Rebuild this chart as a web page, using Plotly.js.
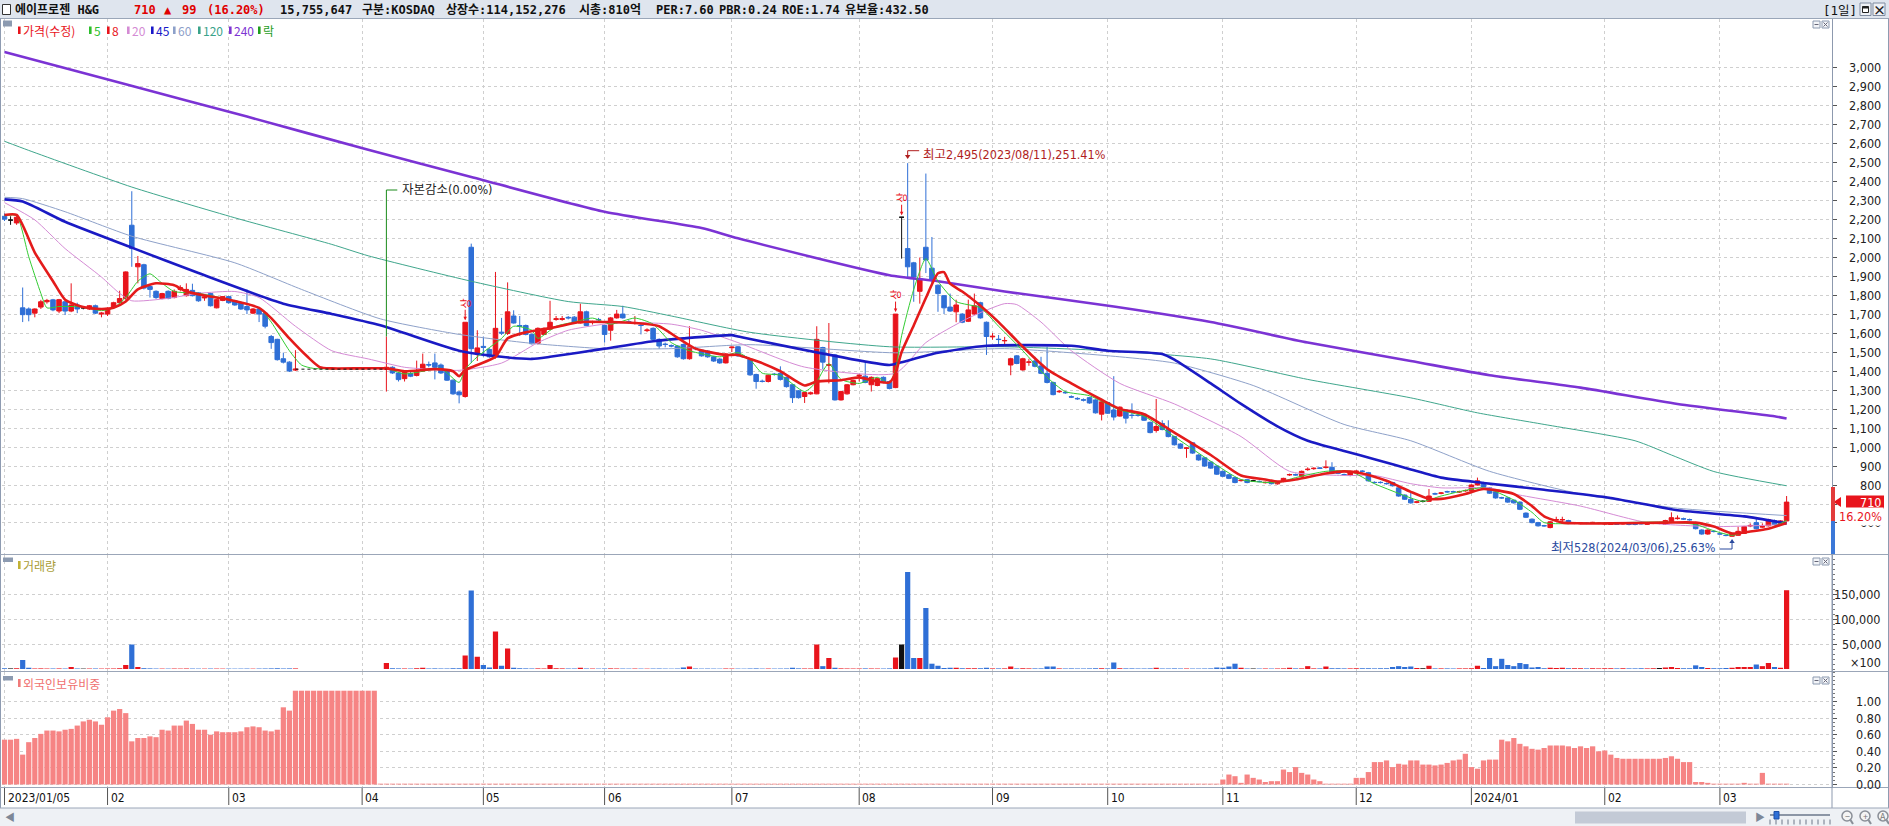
<!DOCTYPE html>
<html><head><meta charset="utf-8">
<script src="https://cdn.plot.ly/plotly-3.0.1.min.js"></script>
<style>html,body{margin:0;padding:0;background:#fff;overflow:hidden}#chart{width:1889px;height:826px}</style>
</head><body><div id="chart"></div>
<script>
// ---------------- DATA ----------------
const holidays = ['2023/01/23','2023/01/24','2023/03/01','2023/05/01','2023/05/05','2023/05/29','2023/06/06','2023/08/15','2023/09/28','2023/09/29','2023/10/02','2023/10/03','2023/10/09','2023/12/25','2023/12/29','2024/01/01','2024/02/09','2024/02/12','2024/03/01'];
const firstDay = [2023,1,5], lastDay = [2024,3,19];

const monthTickDates = ['2023/01/05','2023/02/01','2023/03/02','2023/04/03','2023/05/02','2023/06/01','2023/07/03','2023/08/01','2023/09/01','2023/10/04','2023/11/01','2023/12/01','2024/01/02','2024/02/01','2024/03/04'];
const monthTickText = ['2023/01/05','02','03','04','05','06','07','08','09','10','11','12','2024/01','02','03'];

const open = [
2215,2195,2180,1733,1727,1705,1737,1765,1775,1716,
1765,1716,1748,1733,1727,1744,1700,1700,1735,1760,
1782,2168,1949,1960,1845,1820,1782,1820,1787,1830,
1797,1825,1812,1785,1808,1733,1772,1792,1770,1760,
1740,1705,1727,1705,1582,1567,1465,1447,1405,null,
null,null,null,null,null,null,null,null,null,null,
null,null,null,1410,1420,1390,1360,1387,1377,1400,
1434,1443,1432,1400,1352,1290,1266,2052,1490,1530,
1514,1475,1605,1598,1690,1640,1640,1593,1546,1593,
1620,1672,1672,1683,1684,1653,1712,1655,1672,1640,
1615,1680,1700,1660,1651,1642,1613,1625,1567,1542,
1534,1532,1540,1465,1520,1510,1505,1475,1463,1443,
1523,1528,1477,1462,1382,1347,1345,1384,1388,1367,
1328,1296,1266,1280,1280,1524,1430,1485,1248,1280,
1328,1376,1373,1328,1324,1367,1345,1313,2210,2045,
1970,1820,2052,1942,1852,1797,1737,1712,1700,1662,
1700,1760,1657,1580,1568,1559,1432,1480,1406,1446,
1453,1427,1388,1340,1291,1288,1265,1256,1249,1260,
1248,1173,1234,1195,1163,1195,1168,1168,1173,1130,
1087,1124,1092,1055,1016,993,1022,958,943,921,
900,872,854,839,823,828,822,819,812,822,
806,818,853,855,846,881,886,890,892,893,
872,855,850,871,873,865,814,814,808,813,
785,747,725,709,714,714,754,756,765,765,
763,769,770,800,813,785,764,733,732,720,
710,652,620,602,586,576,616,616,613,597,
597,599,601,597,595,593,595,595,593,593,
597,594,597,598,592,606,623,622,618,602,
563,542,556,543,535,530,535,545,584,602,
578,585,613,598,611];

const high = [
2230,2215,2225,1840,1735,1730,1775,1780,1780,1780,
1770,1862,1760,1740,1748,1750,1710,1735,1765,1823,
1925,2347,2006,1965,1850,1825,1812,1825,1830,1852,
1862,1860,1815,1800,1812,1780,1795,1796,1775,1765,
1830,1732,1730,1710,1590,1570,1497,1452,1510,null,
null,null,null,null,null,null,null,null,null,null,
null,null,null,1582,1425,1395,1405,1395,1455,1492,
1450,1492,1440,1405,1356,1295,1657,2071,1615,1582,
1520,1922,1680,1867,1720,1690,1645,1598,1630,1630,
1770,1690,1690,1690,1690,1755,1718,1665,1680,1645,
1685,1722,1744,1668,1690,1650,1625,1630,1572,1550,
1540,1536,1545,1636,1528,1515,1510,1480,1468,1495,
1530,1532,1485,1466,1386,1355,1382,1390,1425,1370,
1332,1300,1290,1292,1636,1528,1653,1490,1296,1332,
1354,1385,1453,1372,1365,1372,1350,1700,2210,2495,
1975,1998,2440,2106,1856,1800,1808,1776,1705,1776,
1808,1765,1661,1600,1590,1580,1470,1484,1470,1465,
1475,1475,1528,1344,1300,1296,1272,1262,1256,1264,
1252,1242,1238,1373,1214,1200,1230,1175,1178,1134,
1253,1141,1141,1059,1020,1000,1026,962,946,924,
904,876,858,843,830,832,827,824,818,826,
821,838,860,860,876,893,893,895,930,920,
876,860,876,878,878,869,819,819,813,817,
789,751,764,716,720,779,760,763,770,770,
770,776,804,839,817,789,768,738,736,724,
714,656,624,606,590,610,633,633,617,602,
602,603,606,602,600,598,598,600,597,597,
600,599,602,602,617,656,640,628,623,606,
567,567,562,548,540,548,580,585,598,628,
598,622,618,615,742];

const low = [
2190,2170,2170,1658,1662,1683,1727,1755,1715,1705,
1695,1710,1705,1725,1722,1700,1683,1690,1730,1755,
1775,1949,1862,1830,1787,1780,1778,1778,1783,1820,
1792,1793,1765,1770,1740,1730,1768,1755,1744,1722,
1700,1700,1658,1625,1517,1455,1440,1395,1400,null,
null,null,null,null,null,null,null,null,null,null,
null,null,null,1292,1385,1345,1345,1368,1372,1395,
1420,1356,1385,1348,1275,1230,1260,1442,1453,1475,
1470,1465,1590,1590,1650,1585,1588,1540,1540,1590,
1615,1665,1665,1672,1648,1650,1636,1645,1662,1550,
1560,1676,1676,1650,1645,1593,1605,1562,1517,1525,
1525,1470,1460,1460,1510,1476,1470,1448,1438,1440,
1500,1476,1470,1375,1307,1340,1340,1376,1350,1313,
1232,1255,1232,1275,1278,1410,1335,1245,1245,1276,
1325,1345,1336,1292,1320,1336,1304,1310,1992,1895,
1765,1755,1916,1852,1712,1700,1712,1657,1652,1658,
1695,1676,1485,1565,1535,1535,1378,1436,1402,1428,
1420,1384,1335,1272,1285,1280,1258,1248,1240,1228,
1176,1140,1174,1140,1160,1124,1150,1160,1137,1072,
1076,1088,1051,1008,990,943,964,928,896,885,
853,842,831,809,818,809,817,814,808,803,
802,815,848,849,843,875,880,884,887,857,
857,849,846,866,866,818,808,808,802,792,
738,721,702,704,708,711,748,751,759,759,
758,764,766,797,781,753,728,727,706,702,
668,626,598,581,581,572,612,598,594,594,
594,594,597,594,591,590,590,591,588,588,
592,590,594,594,590,603,618,616,612,566,
538,538,550,538,530,528,533,542,578,566,
574,582,588,594,608];

const close = [
2200,2195,2210,1697,1697,1727,1765,1772,1722,1776,
1716,1748,1727,1733,1744,1705,1705,1730,1760,1782,
1922,2045,1966,1837,1830,1787,1808,1782,1820,1840,
1830,1797,1770,1790,1744,1776,1792,1760,1748,1727,
1722,1727,1700,1636,1550,1460,1447,1400,1410,null,
null,null,null,null,null,null,null,null,null,null,
null,null,null,1420,1390,1355,1400,1373,1400,1436,
1432,1420,1390,1352,1280,1275,1657,1518,1522,1525,
1475,1625,1600,1712,1653,1636,1593,1544,1625,1625,
1657,1675,1676,1680,1653,1712,1640,1658,1670,1593,
1680,1700,1680,1657,1654,1640,1616,1567,1532,1540,
1532,1475,1465,1528,1518,1480,1475,1453,1443,1490,
1526,1480,1475,1380,1345,1345,1378,1382,1356,1318,
1260,1260,1287,1285,1567,1447,1434,1248,1292,1328,
1350,1378,1340,1367,1360,1340,1308,1700,2210,1949,
1895,1885,1985,1878,1808,1733,1716,1748,1657,1722,
1744,1680,1582,1583,1566,1561,1465,1440,1465,1448,
1425,1388,1340,1276,1293,1286,1263,1254,1247,1232,
1180,1238,1178,1158,1210,1152,1166,1166,1141,1076,
1108,1092,1055,1012,994,995,968,932,900,889,
857,846,835,813,825,813,822,818,814,807,
818,835,855,853,872,883,888,888,894,861,
861,854,872,873,872,822,813,813,807,796,
742,725,706,711,714,742,753,758,764,764,
765,771,800,822,785,757,732,732,710,706,
672,630,602,585,585,606,618,618,598,599,
599,598,603,599,597,595,594,597,592,592,
596,595,599,598,613,628,625,621,617,570,
542,563,555,542,534,545,556,581,587,570,
582,617,592,611,710];

// volume, in units of 100 shares (axis "x100")
const volume = [
1500,1200,1500,18000,2500,1000,1200,900,1000,1100,
900,4000,1000,800,900,1000,800,900,1000,1500,
8000,49000,4000,1600,1200,900,800,800,900,800,
1000,900,800,700,900,800,700,800,700,800,
900,700,900,1000,1200,1500,1000,1200,1100,0,
0,0,0,0,0,0,0,0,0,0,
0,0,0,12000,1500,1200,1000,900,1500,2500,
1000,1200,1000,1000,1500,1500,27000,157000,24500,8000,
3000,75000,6500,41000,2500,1500,1200,1000,1200,1000,
8000,1500,1200,1000,1000,2500,1000,900,800,1000,
1200,1000,900,800,900,800,700,900,1000,800,
700,900,3000,5000,1000,800,900,800,700,1000,
900,800,700,1000,1200,800,900,800,900,1000,
2500,1200,1000,1000,49000,5700,22000,2500,1200,1000,
900,1000,1200,1000,900,900,1200,23000,49000,194000,
22000,22000,122000,10600,6500,2000,2500,2500,1500,1500,
1500,1500,2500,1200,1200,1200,5000,1200,1500,1200,
1200,1200,5000,5000,1200,1000,1200,1000,1000,1200,
1500,1500,1200,13000,1500,1200,1200,1000,1000,1200,
2500,1000,1000,1200,1000,1000,900,900,1000,1200,
3000,2500,5000,10600,2500,1000,1000,900,1000,900,
1000,1200,2500,1200,1200,5700,1200,1200,5000,1500,
1500,1200,1200,1500,1500,1500,1200,1500,1500,4000,
5700,4000,5000,2000,1500,6500,1200,1200,1200,1000,
1200,1200,1500,6500,2000,22000,5700,20400,8000,5700,
12000,9800,3000,4000,1500,2500,2000,2500,1500,1500,
1500,1200,1500,1200,1500,1500,1200,1500,1200,1200,
1500,1200,1500,2000,3000,4000,2000,1500,1500,7300,
4000,2000,1500,1500,2000,2500,4000,4000,4000,9000,
5700,12000,4000,2500,157556];

// foreign ownership ratio (%)
const foreign = [
0.54,0.54,0.55,0.36,0.51,0.56,0.61,0.65,0.65,0.64,
0.66,0.67,0.71,0.76,0.78,0.76,0.72,0.81,0.89,0.91,
0.86,0.52,0.56,0.56,0.58,0.57,0.66,0.65,0.71,0.71,
0.77,0.73,0.66,0.66,0.60,0.64,0.63,0.63,0.63,0.64,
0.69,0.70,0.69,0.65,0.64,0.66,0.93,0.89,1.13,1.13,
1.13,1.13,1.13,1.13,1.13,1.13,1.13,1.13,1.13,1.13,
1.13,1.13,0.01,0.01,0.01,0.01,0.01,0.01,0.01,0.01,
0.01,0.01,0.01,0.01,0.01,0.01,0.01,0.01,0.01,0.01,
0.01,0.01,0.01,0.01,0.01,0.01,0.01,0.01,0.01,0.01,
0.01,0.01,0.01,0.01,0.01,0.01,0.01,0.01,0.01,0.01,
0.01,0.01,0.01,0.01,0.01,0.01,0.01,0.01,0.01,0.01,
0.01,0.01,0.01,0.01,0.01,0.01,0.01,0.01,0.01,0.01,
0.01,0.01,0.01,0.01,0.01,0.01,0.01,0.01,0.01,0.01,
0.01,0.01,0.01,0.01,0.01,0.01,0.01,0.01,0.01,0.01,
0.01,0.01,0.01,0.01,0.01,0.01,0.01,0.01,0.01,0.01,
0.01,0.01,0.01,0.01,0.01,0.01,0.01,0.01,0.01,0.01,
0.01,0.01,0.01,0.01,0.01,0.01,0.01,0.01,0.01,0.01,
0.01,0.01,0.01,0.01,0.01,0.01,0.01,0.01,0.01,0.01,
0.01,0.01,0.01,0.01,0.01,0.01,0.01,0.01,0.01,0.01,
0.01,0.01,0.01,0.01,0.01,0.01,0.01,0.01,0.01,0.01,
0.01,0.06,0.12,0.10,0.02,0.12,0.08,0.06,0.03,0.04,
0.04,0.18,0.15,0.21,0.14,0.12,0.06,0.04,0.01,0.01,
0.01,0.01,0.01,0.08,0.08,0.15,0.27,0.27,0.29,0.21,
0.25,0.24,0.29,0.29,0.24,0.24,0.23,0.24,0.26,0.29,
0.30,0.37,0.21,0.19,0.29,0.30,0.30,0.54,0.52,0.56,
0.49,0.46,0.43,0.42,0.44,0.47,0.47,0.47,0.46,0.44,
0.46,0.44,0.46,0.40,0.41,0.36,0.32,0.31,0.31,0.31,
0.31,0.31,0.31,0.31,0.32,0.34,0.31,0.27,0.27,0.03,
0.03,0.02,0.01,0.01,0.01,0.01,0.01,0.02,0.01,0.01,
0.14,0.01,0.01,0.01,0.01];

// moving averages: [trading-day index, value]
const ma5 = [[0,2218],[2,2218],[4,2002],[6,1809],[7,1733],[9,1740],[13,1737],[16,1718],[18,1733],[20,1787],[22,1873],[24,1912],[26,1862],[28,1819],[32,1809],[38,1770],[42,1733],[44,1658],[47,1507],[49,1432],[51,1414],[62,1414],[63,1414],[66,1385],[70,1405],[72,1415],[75,1340],[76,1410],[78,1475],[82,1572],[84,1636],[87,1615],[88,1572],[91,1636],[94,1658],[97,1679],[100,1647],[104,1679],[107,1647],[110,1550],[113,1507],[118,1475],[121,1497],[123,1460],[125,1389],[128,1378],[132,1292],[134,1345],[135,1400],[136,1440],[138,1356],[141,1335],[144,1367],[146,1335],[147,1410],[148,1586],[150,1830],[152,1992],[154,1873],[157,1766],[161,1733],[164,1636],[168,1507],[172,1367],[175,1292],[179,1270],[184,1195],[188,1162],[193,1055],[199,925],[204,829],[210,813],[213,839],[218,872],[222,872],[226,807],[232,732],[234,714],[237,742],[244,785],[249,721],[252,656],[254,602],[260,598],[274,605],[279,592],[282,559],[285,535],[287,550],[291,570],[294,613]];
const ma8 = [[0,2222],[2,2222],[5,2024],[8,1873],[10,1776],[13,1737],[16,1727],[18,1733],[20,1766],[22,1830],[25,1862],[28,1852],[30,1819],[33,1798],[37,1776],[39,1761],[42,1733],[44,1679],[47,1572],[50,1475],[52,1421],[54,1414],[63,1414],[66,1399],[71,1410],[74,1399],[75,1373],[76,1405],[78,1432],[81,1475],[83,1572],[86,1604],[88,1615],[91,1632],[95,1658],[100,1658],[104,1653],[108,1636],[111,1576],[114,1518],[119,1485],[121,1485],[123,1464],[125,1442],[128,1399],[132,1324],[134,1345],[138,1352],[141,1367],[144,1345],[146,1340],[147,1390],[148,1500],[150,1640],[152,1785],[154,1915],[155,1921],[156,1860],[158,1819],[161,1744],[164,1658],[168,1528],[172,1410],[176,1335],[181,1249],[184,1201],[188,1173],[193,1076],[199,958],[204,850],[208,829],[210,818],[213,829],[218,861],[221,872],[224,861],[228,822],[232,764],[235,727],[237,727],[241,753],[244,779],[249,753],[252,689],[254,635],[257,602],[260,598],[265,598],[274,602],[279,602],[282,581],[285,545],[288,555],[291,570],[294,600]];
const ma20 = [[0,2287],[5,2196],[10,2045],[16,1895],[19,1809],[21,1770],[27,1783],[32,1809],[38,1819],[42,1787],[48,1636],[54,1507],[60,1464],[66,1420],[70,1410],[75,1404],[82,1442],[88,1550],[93,1615],[99,1647],[104,1655],[110,1647],[115,1615],[121,1550],[132,1421],[147,1389],[152,1550],[159,1679],[165,1755],[167,1750],[171,1658],[176,1507],[184,1335],[193,1227],[204,1055],[212,872],[221,850],[226,850],[232,807],[237,785],[245,785],[249,753],[260,689],[271,602],[282,581],[294,592]];
const ma45 = [[0,2304],[3,2293],[10,2186],[21,2050],[32,1916],[46,1755],[54,1701],[62,1641],[75,1507],[82,1475],[87,1464],[90,1475],[99,1518],[107,1557],[112,1572],[120,1589],[121,1582],[146,1432],[148,1447],[154,1496],[162,1533],[176,1533],[182,1507],[191,1490],[193,1460],[199,1335],[204,1227],[210,1109],[215,1033],[221,979],[226,936],[232,882],[237,839],[244,811],[254,775],[265,732],[276,667],[287,635],[294,598]];
const ma60 = [[0,2315],[3,2308],[10,2239],[21,2110],[38,1970],[49,1830],[62,1675],[75,1593],[87,1546],[99,1518],[110,1518],[123,1539],[147,1496],[165,1518],[184,1475],[193,1442],[206,1324],[221,1119],[232,1033],[245,872],[260,753],[276,678],[294,639]];
const ma120 = [[0,2610],[4,2562],[21,2369],[38,2207],[54,2067],[60,2007],[77,1873],[93,1766],[102,1740],[110,1690],[123,1604],[146,1528],[165,1528],[182,1507],[199,1464],[215,1356],[232,1259],[243,1180],[254,1119],[269,1033],[275,958],[282,871],[294,796]];
const ma240 = [[0,3080],[20,2910],[40,2740],[60,2565],[77,2422],[99,2239],[115,2153],[121,2099],[146,1905],[154,1873],[165,1819],[183,1740],[199,1658],[215,1550],[232,1453],[245,1378],[260,1313],[276,1227],[292,1162],[294,1150]];

const priceTicks = [600,700,800,900,1000,1100,1200,1300,1400,1500,1600,1700,1800,1900,2000,2100,2200,2300,2400,2500,2600,2700,2800,2900,3000];
const volTicks = [50000,100000,150000];
const foreignTicks = [0,0.2,0.4,0.6,0.8,1.0];

const upperLimitDates = ['2023/04/26','2023/08/09','2023/08/10'];
const capReductionDate = '2023/04/07';
const highDate = '2023/08/11', lowDate = '2024/03/06';
const haltFrom = '2023/03/17', haltTo = '2023/04/07';
const lastVolumeShares = 15755647;

// ---------------- BUILD ----------------
function fmtD(d){const m=d.getUTCMonth()+1, dd=d.getUTCDate();return d.getUTCFullYear()+'/'+(m<10?'0':'')+m+'/'+(dd<10?'0':'')+dd;}
function tradingDays(s,e){const out=[];const d=new Date(Date.UTC(s[0],s[1]-1,s[2]));const end=Date.UTC(e[0],e[1]-1,e[2]);
  while(d.getTime()<=end){const wd=d.getUTCDay();const t=fmtD(d);if(wd!==0&&wd!==6&&holidays.indexOf(t)<0)out.push(t);d.setUTCDate(d.getUTCDate()+1);}return out;}
const dates = tradingDays(firstDay,lastDay);

const W=1889,H=826;
const KR='"Noto Sans CJK KR","Noto Sans",sans-serif';
const MONO='"DejaVu Sans Mono","Noto Sans CJK KR",monospace';
const NAR='"DejaVu Sans Condensed","Noto Sans CJK KR",sans-serif';
const RED='#e8141c', BLUE='#2f6fd6';
const px=x=>x/W, py=y=>1-y/H;
const P_TOP=19,P_BOT=554,P_MIN=436.7,P_MAX=3253.9;
const priceToPx=p=>P_TOP+(P_MAX-p)/(P_MAX-P_MIN)*(P_BOT-P_TOP);
const pxToPrice=y=>P_MAX-(y-P_TOP)/(P_BOT-P_TOP)*(P_MAX-P_MIN);

const traces=[];
function maTrace(arr,color,width){traces.push({type:'scatter',mode:'lines',x:arr.map(p=>dates[p[0]]),y:arr.map(p=>p[1]),xaxis:'x',yaxis:'y',line:{color:color,width:width,shape:'spline',smoothing:0.6},hoverinfo:'skip'});}
maTrace(ma120,'#3fa68c',1);
maTrace(ma60,'#8ea1c9',1);
maTrace(ma20,'#d58bd5',1);
maTrace(ma240,'#7b33d4',2.6);
maTrace(ma45,'#1a1ac4',2.6);
maTrace(ma5,'#33cc33',1);
maTrace(ma8,'#e41b1b',2.6);

// trading halt: flat dashed line at last close
const hA=dates.indexOf(haltFrom), hB=dates.indexOf(haltTo);
traces.push({type:'scatter',mode:'lines',x:[dates[hA],dates[hB]],y:[close[hA],close[hA]],xaxis:'x',yaxis:'y',line:{color:'#111',width:1,dash:'3px,3px'},hoverinfo:'skip'});

// candles
const cx=[],co=[],ch=[],cl=[],cc=[],bx=[],bo=[],bh=[],bl=[],bc=[];
for(let i=0;i<dates.length;i++){
  if(open[i]===null) continue;
  if(open[i]===close[i]){bx.push(dates[i]);bo.push(open[i]);bh.push(high[i]);bl.push(low[i]);bc.push(close[i]);}
  else {cx.push(dates[i]);co.push(open[i]);ch.push(high[i]);cl.push(low[i]);cc.push(close[i]);}
}
traces.push({type:'candlestick',x:cx,open:co,high:ch,low:cl,close:cc,xaxis:'x',yaxis:'y',whiskerwidth:0,
  increasing:{line:{color:RED,width:1},fillcolor:RED},decreasing:{line:{color:BLUE,width:1},fillcolor:BLUE},hoverinfo:'skip'});
traces.push({type:'candlestick',x:bx,open:bo,high:bh,low:bl,close:bc,xaxis:'x',yaxis:'y',whiskerwidth:0,
  increasing:{line:{color:'#111',width:1},fillcolor:'#111'},decreasing:{line:{color:'#111',width:1},fillcolor:'#111'},hoverinfo:'skip'});

// volume
const vcol=dates.map((d,i)=>open[i]===null?'#fff':(close[i]>open[i]?RED:(close[i]<open[i]?BLUE:'#111')));
traces.push({type:'bar',x:dates,y:volume,xaxis:'x2',yaxis:'y2',marker:{color:vcol,line:{width:0}},hoverinfo:'skip'});
// foreign ratio
traces.push({type:'bar',x:dates,y:foreign,xaxis:'x3',yaxis:'y3',marker:{color:'#f68484',line:{width:0}},hoverinfo:'skip'});

// ---------------- LAYOUT ----------------
const xBase={type:'category',categoryorder:'array',categoryarray:dates,range:[-0.412,301.49],domain:[px(2),px(1832)],
  tickvals:monthTickDates,showticklabels:false,ticks:'',showgrid:true,gridcolor:'#cfcfcf',griddash:'dot',gridwidth:1,zeroline:false,showline:false,fixedrange:true};
const yBase={side:'right',showline:true,linecolor:'#8d99ae',linewidth:1,ticks:'outside',ticklen:4,tickcolor:'#555',showticklabels:false,
  showgrid:true,gridcolor:'#cfcfcf',griddash:'dot',gridwidth:1,zeroline:false,fixedrange:true};

const shapes=[], anns=[];
function rect(x0,y0,x1,y1,fill,line,lw){shapes.push({type:'rect',xref:'paper',yref:'paper',x0:px(x0),x1:px(x1),y0:py(y1),y1:py(y0),fillcolor:fill||'rgba(0,0,0,0)',line:{color:line||'rgba(0,0,0,0)',width:line?(lw||1):0},layer:'above'});}
function seg(x0,y0,x1,y1,color,w){shapes.push({type:'line',xref:'paper',yref:'paper',x0:px(x0),x1:px(x1),y0:py(y0),y1:py(y1),line:{color:color,width:w||1},layer:'above'});}
function poly(pts,fill){shapes.push({type:'path',xref:'paper',yref:'paper',path:'M'+pts.map(p=>px(p[0])+','+py(p[1])).join('L')+'Z',fillcolor:fill,line:{width:0},layer:'above'});}
function txt(text,x,y,o){anns.push(Object.assign({text:text,x:px(x),y:py(y),xref:'paper',yref:'paper',showarrow:false,xanchor:'left',yanchor:'middle',font:{family:KR,size:12,color:'#000'},borderpad:0},o||{}));}

// header bar
rect(0,0,W,18.5,'#dfe5ee',null);
seg(0,18.5,W,18.5,'#9aa6b8',1);
rect(2.5,4.5,10.5,14.5,'#fff','#333',1);
const chg=close[close.length-1]-close[close.length-2];
const pct=(chg/close[close.length-2]*100).toFixed(2);
const hdr=[['에이프로젠 H&amp;G',14,'#111'],[String(close[close.length-1]),133,'#e00000'],['▲',163,'#e00000'],[String(chg),181,'#e00000'],['('+pct+'%)',206,'#e00000'],
 [lastVolumeShares.toLocaleString('en-US'),279,'#111'],['구분:KOSDAQ',361,'#111'],['상장수:114,152,276',445,'#111'],['시총:810억',578,'#111'],
 ['PER:7.60',655,'#111'],['PBR:0.24',718,'#111'],['ROE:1.74',781,'#111'],['유보율:432.50',844,'#111']];
hdr.forEach(h=>txt('<b>'+h[0]+'</b>',h[1],10,{font:{family:MONO,size:12,color:h[2]}}));
txt('[1일]',1822,10,{font:{family:MONO,size:12.5,color:'#111'}});
rect(1860,3,1871,15.5,'#eef1f6','#7f8ba0',1); rect(1862.5,6.5,1868.5,12.5,'#fff','#222',1); seg(1862.5,7.5,1868.5,7.5,'#222',2);
rect(1873,3,1885,15.5,'#eef1f6','#7f8ba0',1); txt('<b>×</b>',1879,9.5,{xanchor:'center',font:{family:KR,size:13,color:'#222'}});

// legend row (price panel)
rect(3,20.5,12,26.5,'#8c9ab0',null);
const legend=[['가격(수정)','#e8141c',18],['5','#2cbf2c',89],['8','#e8141c',107],['20','#d48bd4',127],['45','#1818c8',151],['60','#8da0c9',173],['120','#3aa38a',198],['240','#7d35d3',229],['락','#1e9e1e',258]];
legend.forEach(l=>{rect(l[2],26.5,l[2]+2.6,34,l[1],null);txt(l[0],l[2]+4,30.5,{font:{family:KR,size:12,color:l[1]}});});

// panel titles
rect(3,557.5,13,562,'#8c9ab0',null); rect(18,561,20.6,569,'#c2b235',null); txt('거래량',22,565,{font:{family:KR,size:12,color:'#a99c35'}});
rect(3,676,13,680.5,'#8c9ab0',null); rect(18,679,20.6,687,'#f07a7a',null); txt('외국인보유비중',22,683,{font:{family:KR,size:12,color:'#f07070'}});
// panel icons
[[21],[558],[677]].forEach(r=>{const y=r[0];rect(1813,y,1820,y+7,'#f2f4f8','#8c9ab0',1);seg(1814.5,y+3.5,1818.5,y+3.5,'#667',1);rect(1822,y,1829,y+7,'#f2f4f8','#8c9ab0',1);seg(1823.5,y+1.5,1827.5,y+5.5,'#667',1);seg(1823.5,y+5.5,1827.5,y+1.5,'#667',1);});

// frame and separators
seg(0.5,18.5,0.5,808,'#8e9bb1',1);
seg(0,554.5,W,554.5,'#9ba6b8',1);
seg(0,671.5,W,671.5,'#9ba6b8',1);
seg(0,787.5,W,787.5,'#9ba6b8',1);
seg(1832,554,1832,808,'#8d99ae',1);
seg(W-0.5,18.5,W-0.5,826,'#8e9bb1',1);

// current price tag (covers the 700 label)
const lastC=close[close.length-1], tagY=priceToPx(lastC);

// price axis labels (the one under the price tag is hidden)
const AXF={family:NAR,size:12.5,color:'#222'};
priceTicks.forEach(v=>{ if(Math.abs(priceToPx(v)-tagY)<8) return;
  anns.push({text:v.toLocaleString('en-US'),x:px(1883),xref:'paper',y:v,yref:'y',xanchor:'right',yanchor:'middle',showarrow:false,font:AXF});});
volTicks.forEach(v=>anns.push({text:v.toLocaleString('en-US'),x:px(1883),xref:'paper',y:v,yref:'y2',xanchor:'right',yanchor:'middle',showarrow:false,font:AXF}));
anns.push({text:'×100',x:px(1883),xref:'paper',y:13400,yref:'y2',xanchor:'right',yanchor:'middle',showarrow:false,font:AXF});
foreignTicks.forEach(v=>anns.push({text:v.toFixed(2),x:px(1883),xref:'paper',y:v,yref:'y3',xanchor:'right',yanchor:'middle',showarrow:false,font:AXF}));

rect(1846,tagY-6.5,1884,tagY+6.5,RED,null);
poly([[1833.5,tagY],[1841,tagY-5],[1841,tagY+5]],RED);
anns.push({text:String(lastC),x:px(1883),xref:'paper',y:py(tagY),yref:'paper',xanchor:'right',yanchor:'middle',showarrow:false,font:{family:NAR,size:12.5,color:'#fff'}});
anns.push({text:pct+'%',x:px(1884),xref:'paper',y:py(tagY+14),yref:'paper',xanchor:'right',yanchor:'middle',showarrow:false,bgcolor:'#fff',font:{family:NAR,size:12.5,color:RED}});
rect(1831,487,1835,521,'#e23b3b',null); rect(1831,521,1835,554,'#3b78d8',null);

// x-axis labels and ticks
monthTickDates.forEach((d,k)=>{const i=dates.indexOf(d);
  shapes.push({type:'line',xref:'x3',yref:'paper',x0:i,x1:i,y0:py(788),y1:py(805),line:{color:'#555',width:1},layer:'above'});
  anns.push({text:monthTickText[k],x:i,xref:'x3',xshift:1,y:py(797.5),yref:'paper',xanchor:'left',yanchor:'middle',showarrow:false,font:{family:NAR,size:12,color:'#111'}});});

// scroll bar
rect(0,808,W,826,'#eef1f5',null); seg(0,808,W,808,'#9ba6b8',1);
txt('◀',4,816.5,{font:{family:KR,size:10,color:'#7d8797'}});
rect(1575,811.5,1746,823.5,'#c3cad6',null);
txt('▶',1754,816.5,{font:{family:KR,size:10,color:'#7d8797'}});
seg(1770,815,1830,815,'#8c96a6',2);
rect(1774,811.5,1779,819,BLUE,'#1d4fa8',1);
for(let k=0;k<=10;k++){seg(1770+k*6,819.5,1770+k*6,824.5,'#6d7788',1);}
[[1847,'−'],[1865,'+'],[1883,'A']].forEach(m=>{shapes.push({type:'circle',xref:'paper',yref:'paper',x0:px(m[0]-5),x1:px(m[0]+5),y0:py(821),y1:py(811),line:{color:'#8a8f98',width:1.5},fillcolor:'#f4f4f4',layer:'above'});
  seg(m[0]+3.5,820,m[0]+6,824,'#8a8f98',2);txt(m[1],m[0],816,{xanchor:'center',font:{family:KR,size:9,color:'#777'}});});

// chart annotations
const CF=12.5;
// capital reduction
const capI=dates.indexOf(capReductionDate);
shapes.push({type:'line',xref:'x',yref:'y',x0:capI,x1:capI,y0:high[capI],y1:pxToPrice(190),line:{color:'#1a8a1a',width:1},layer:'above'});
shapes.push({type:'line',xref:'x',yref:'y',x0:capI,x1:capI+1.8,y0:pxToPrice(190),y1:pxToPrice(190),line:{color:'#1a8a1a',width:1},layer:'above'});
anns.push({text:'자본감소(0.00%)',x:capI+2.3,xref:'x',y:py(190),yref:'paper',xanchor:'left',yanchor:'middle',showarrow:false,font:{family:NAR,size:CF,color:'#222'}});
// highest
const hiI=dates.indexOf(highDate);
shapes.push({type:'line',xref:'x',yref:'paper',x0:hiI,x1:hiI+1.9,y0:py(150.7),y1:py(150.7),line:{color:'#b01e1e',width:1},layer:'above'});
shapes.push({type:'line',xref:'x',yref:'paper',x0:hiI,x1:hiI,y0:py(150.7),y1:py(156),line:{color:'#b01e1e',width:1},layer:'above'});
shapes.push({type:'path',xref:'x',yref:'paper',path:'M'+(hiI-0.45)+','+py(155)+'L'+(hiI+0.45)+','+py(155)+'L'+hiI+','+py(159)+'Z',fillcolor:'#b01e1e',line:{width:0},layer:'above'});
anns.push({text:'최고'+high[hiI].toLocaleString('en-US')+'('+highDate+'),251.41%',x:hiI+2.2,xref:'x',y:py(154.5),yref:'paper',xanchor:'left',yanchor:'middle',showarrow:false,font:{family:NAR,size:CF,color:'#b01e1e'}});
// lowest
const loI=dates.indexOf(lowDate);
shapes.push({type:'line',xref:'x',yref:'paper',x0:loI-2.0,x1:loI,y0:py(549),y1:py(549),line:{color:'#2a4a9e',width:1},layer:'above'});
shapes.push({type:'line',xref:'x',yref:'paper',x0:loI,x1:loI,y0:py(549),y1:py(542),line:{color:'#2a4a9e',width:1},layer:'above'});
shapes.push({type:'path',xref:'x',yref:'paper',path:'M'+(loI-0.45)+','+py(543)+'L'+(loI+0.45)+','+py(543)+'L'+loI+','+py(539)+'Z',fillcolor:'#2a4a9e',line:{width:0},layer:'above'});
anns.push({text:'최저'+low[loI]+'('+lowDate+'),25.63%',x:loI-2.3,xref:'x',y:py(547),yref:'paper',xanchor:'right',yanchor:'middle',showarrow:false,font:{family:NAR,size:CF,color:'#2a4a9e'}});
// upper-limit marks
upperLimitDates.forEach(d=>{const i=dates.indexOf(d);
  anns.push({text:'상',x:i,xref:'x',y:high[i],yref:'y',showarrow:true,ax:0,ay:-19,arrowhead:2,arrowsize:0.7,arrowwidth:1,arrowcolor:RED,standoff:2,textangle:-90,font:{family:KR,size:11,color:RED}});});

const layout={width:W,height:H,margin:{l:0,r:0,t:0,b:0},paper_bgcolor:'#fff',plot_bgcolor:'#fff',showlegend:false,
  boxgap:0.25,boxgroupgap:0,bargap:0.14,dragmode:false,hovermode:false,
  xaxis:Object.assign({},xBase,{anchor:'y',rangeslider:{visible:false}}),
  xaxis2:Object.assign({},xBase,{anchor:'y2',matches:'x'}),
  xaxis3:Object.assign({},xBase,{anchor:'y3',matches:'x'}),
  yaxis:Object.assign({},yBase,{anchor:'x',domain:[py(P_BOT),py(P_TOP)],range:[P_MIN,P_MAX],tickvals:priceTicks}),
  yaxis2:Object.assign({},yBase,{anchor:'x2',domain:[py(671),py(555)],range:[-4000,228000],tickvals:volTicks,minor:{ticks:'outside',ticklen:2,tickcolor:'#777',dtick:10000,tick0:0}}),
  yaxis3:Object.assign({},yBase,{anchor:'x3',domain:[py(787),py(672)],range:[-0.0301,1.3554],tickvals:foreignTicks,minor:{ticks:'outside',ticklen:2,tickcolor:'#777',dtick:0.05,tick0:0}}),
  shapes:shapes,annotations:anns};
Plotly.newPlot('chart',traces,layout,{staticPlot:true,displayModeBar:false});
</script></body></html>
